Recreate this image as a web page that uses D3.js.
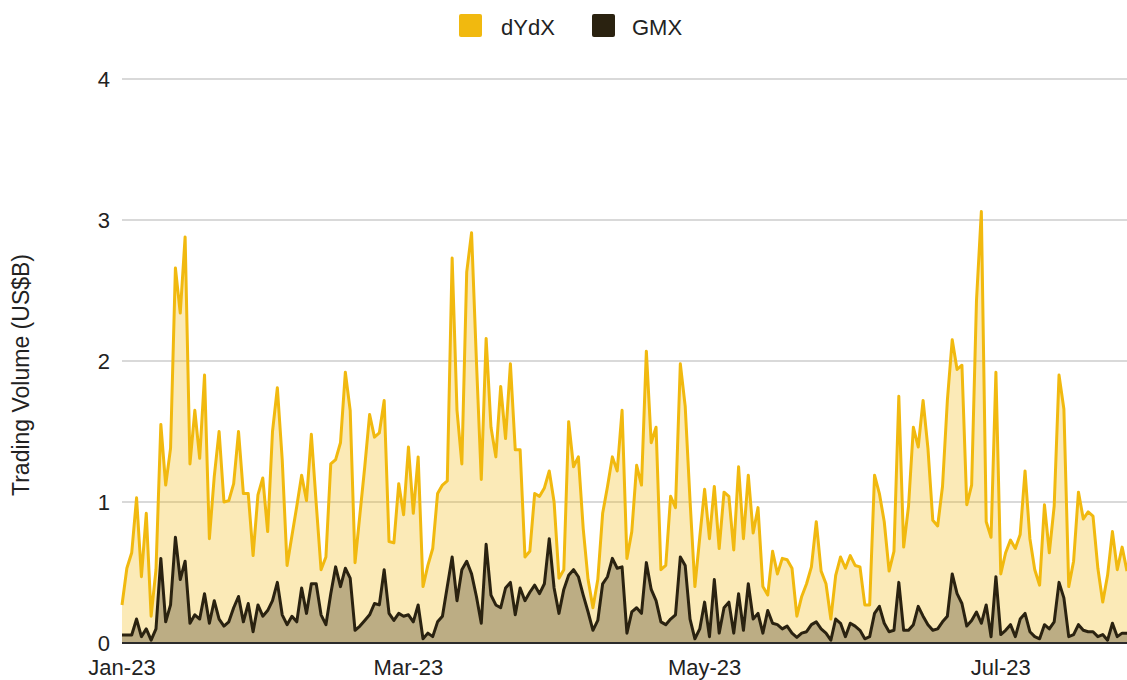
<!DOCTYPE html>
<html>
<head>
<meta charset="utf-8">
<script src="https://cdn.jsdelivr.net/npm/d3@7"></script>
<style>
  html, body { margin: 0; padding: 0; background: #fff; }
  svg { display: block; font-family: Arial, "Liberation Sans", sans-serif; }
</style>
</head>
<body>
<svg id="chart" width="1127" height="680"></svg>
<script>
// ---- Data (daily, 1 Jan 2023 – 27 Jul 2023), US$ billions ----
const startDate = new Date(2023, 0, 1);
const endDate = new Date(2023, 6, 27);
const seriesNames = ["dYdX", "GMX"];
const seriesColors = ["#F1B90F", "#2A2210"];
const yTicks = [0, 1, 2, 3, 4];
const xTickDates = [new Date(2023, 0, 1), new Date(2023, 2, 1), new Date(2023, 4, 1), new Date(2023, 6, 1)];
const yTitle = "Trading Volume (US$B)";

const dydx = [
  0.27,0.53,0.64,1.03,0.47,0.92,0.19,0.52,1.55,1.12,
  1.38,2.66,2.34,2.88,1.27,1.65,1.31,1.90,0.74,1.18,
  1.50,1.00,1.01,1.13,1.50,1.06,1.06,0.62,1.05,1.17,
  0.79,1.50,1.81,1.30,0.55,0.76,0.97,1.19,1.01,1.48,
  0.99,0.52,0.61,1.27,1.30,1.42,1.92,1.65,0.57,0.91,
  1.25,1.62,1.46,1.49,1.72,0.72,0.71,1.13,0.91,1.39,
  0.92,1.32,0.40,0.55,0.67,1.06,1.12,1.15,2.73,1.65,
  1.27,2.63,2.91,2.00,1.16,2.16,1.53,1.32,1.82,1.45,
  1.98,1.37,1.37,0.61,0.65,1.06,1.04,1.10,1.22,1.00,
  0.46,0.52,1.57,1.25,1.32,0.81,0.45,0.25,0.45,0.92,
  1.11,1.32,1.22,1.65,0.60,0.79,1.26,1.12,2.07,1.42,
  1.53,0.52,0.55,1.04,0.96,1.98,1.68,1.01,0.40,0.75,
  1.09,0.74,1.11,0.67,1.07,1.04,0.66,1.25,0.74,1.19,
  0.78,0.96,0.40,0.34,0.65,0.49,0.60,0.59,0.53,0.19,
  0.33,0.42,0.54,0.86,0.51,0.42,0.17,0.48,0.61,0.53,
  0.62,0.55,0.54,0.27,0.27,1.19,1.06,0.86,0.51,0.65,
  1.75,0.68,0.97,1.53,1.39,1.72,1.38,0.87,0.83,1.11,
  1.72,2.15,1.94,1.97,0.98,1.12,2.43,3.06,0.86,0.75,
  1.92,0.49,0.64,0.73,0.67,0.77,1.22,0.74,0.52,0.41,
  0.98,0.64,0.97,1.90,1.66,0.40,0.58,1.07,0.88,0.93,
  0.90,0.53,0.29,0.48,0.79,0.52,0.68,0.51
];

const gmx = [
  0.057,0.057,0.057,0.17,0.045,0.10,0.02,0.10,0.60,0.15,
  0.27,0.75,0.45,0.58,0.14,0.20,0.17,0.35,0.14,0.30,
  0.17,0.12,0.15,0.25,0.33,0.15,0.28,0.08,0.27,0.19,
  0.23,0.30,0.43,0.20,0.13,0.19,0.15,0.39,0.21,0.42,
  0.42,0.20,0.13,0.35,0.54,0.40,0.53,0.46,0.09,0.12,
  0.16,0.20,0.28,0.27,0.52,0.21,0.16,0.21,0.19,0.20,
  0.15,0.27,0.03,0.07,0.045,0.15,0.19,0.40,0.61,0.30,
  0.52,0.58,0.49,0.33,0.14,0.70,0.34,0.27,0.25,0.39,
  0.43,0.20,0.39,0.30,0.36,0.41,0.35,0.42,0.74,0.39,
  0.21,0.38,0.48,0.52,0.47,0.34,0.22,0.09,0.16,0.42,
  0.47,0.60,0.53,0.54,0.07,0.22,0.25,0.21,0.57,0.38,
  0.30,0.15,0.13,0.17,0.20,0.61,0.55,0.17,0.03,0.10,
  0.29,0.045,0.45,0.07,0.25,0.29,0.07,0.35,0.09,0.42,
  0.17,0.21,0.07,0.23,0.14,0.13,0.10,0.12,0.07,0.04,
  0.07,0.08,0.13,0.15,0.10,0.07,0.02,0.17,0.14,0.045,
  0.14,0.12,0.09,0.03,0.045,0.21,0.26,0.14,0.08,0.09,
  0.43,0.09,0.09,0.13,0.26,0.19,0.13,0.09,0.10,0.15,
  0.19,0.49,0.35,0.28,0.12,0.16,0.22,0.14,0.27,0.045,
  0.47,0.06,0.09,0.13,0.045,0.17,0.21,0.08,0.045,0.03,
  0.13,0.10,0.15,0.43,0.32,0.045,0.06,0.13,0.09,0.08,
  0.08,0.045,0.06,0.02,0.14,0.045,0.07,0.07
];

// ---- Build ----
const dates = d3.timeDay.range(startDate, d3.timeDay.offset(endDate, 1));
const series = [dydx, gmx].map((vals, k) => ({
  name: seriesNames[k],
  color: seriesColors[k],
  points: vals.map((v, i) => ({ date: dates[i], value: v }))
}));

const svg = d3.select("#chart");
const plotLeft = 122, plotRight = 1127, plotTop = 79, plotBottom = 643;

const x = d3.scaleTime().domain([startDate, endDate]).range([plotLeft, plotRight]);
const y = d3.scaleLinear().domain([0, 4]).range([plotBottom, plotTop]);

// gridlines
svg.append("g").selectAll("line").data(yTicks.filter(d => d !== 0)).join("line")
  .attr("x1", plotLeft).attr("x2", plotRight)
  .attr("y1", d => y(d)).attr("y2", d => y(d))
  .attr("stroke", "#cccccc").attr("stroke-width", 1.3);

// y tick labels
svg.append("g").selectAll("text").data(yTicks).join("text")
  .attr("x", 110).attr("y", d => y(d)).attr("dy", "0.36em")
  .attr("text-anchor", "end")
  .attr("font-size", 22).attr("fill", "#222")
  .text(d => d);

// x tick labels
const fmt = d3.timeFormat("%b-%y");
svg.append("g").selectAll("text").data(xTickDates).join("text")
  .attr("x", d => x(d)).attr("y", 675)
  .attr("text-anchor", "middle")
  .attr("font-size", 22).attr("fill", "#222")
  .text(d => fmt(d));

// y title
svg.append("text")
  .attr("transform", "translate(29,375) rotate(-90)")
  .attr("text-anchor", "middle")
  .attr("font-size", 23).attr("fill", "#222")
  .text(yTitle);

// areas
const area = d3.area().x(d => x(d.date)).y0(y(0)).y1(d => y(d.value));
const line = d3.line().x(d => x(d.date)).y(d => y(d.value));

svg.append("g").selectAll("path").data(series).join("path")
  .attr("d", d => area(d.points))
  .attr("fill", d => d.color).attr("fill-opacity", 0.3);

svg.append("g").selectAll("path").data(series).join("path")
  .attr("d", d => line(d.points))
  .attr("fill", "none").attr("stroke", d => d.color)
  .attr("stroke-width", 3).attr("stroke-linejoin", "round");

// baseline
svg.append("line")
  .attr("x1", plotLeft).attr("x2", plotRight)
  .attr("y1", y(0)).attr("y2", y(0))
  .attr("stroke", "#2b2b2b").attr("stroke-width", 2);

// legend
const legendX = [459, 592];
const lg = svg.append("g").selectAll("g").data(series).join("g")
  .attr("transform", (d, i) => `translate(${legendX[i]},14)`);
lg.append("rect").attr("width", 23).attr("height", 23).attr("rx", 2)
  .attr("fill", d => d.color);
lg.append("text").attr("x", (d, i) => i === 0 ? 42 : 40).attr("y", 21)
  .attr("font-size", 22).attr("fill", "#222")
  .text(d => d.name);
</script>
</body>
</html>
